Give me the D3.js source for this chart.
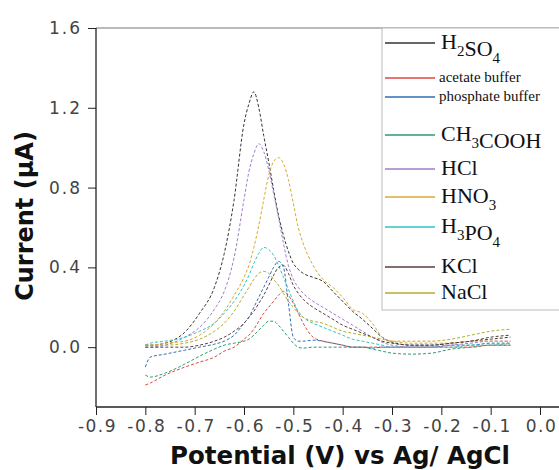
<!DOCTYPE html>
<html>
<head>
<meta charset="utf-8">
<script src="https://cdn.jsdelivr.net/npm/d3@7"></script>
<style>
  body { margin: 0; background: #fff; }
  svg { display: block; }
</style>
</head>
<body>
<div id="chart"></div>
<script>
// potential grid (V vs Ag/AgCl) shared by all scans
const potentials = [-0.80, -0.79, -0.76, -0.72, -0.69, -0.66, -0.64, -0.62, -0.60, -0.59,
  -0.58, -0.57, -0.56, -0.55, -0.54, -0.53, -0.52, -0.51, -0.50, -0.49,
  -0.48, -0.46, -0.44, -0.42, -0.40, -0.38, -0.36, -0.34, -0.32, -0.30,
  -0.26, -0.22, -0.18, -0.14, -0.10, -0.06]

// current (µA)
const h2so4 = [0.01, 0.01, 0.02, 0.075, 0.17, 0.30, 0.47, 0.74, 1.12, 1.22,
  1.28, 1.20, 1.06, 0.93, 0.79, 0.66, 0.56, 0.48, 0.42, 0.39,
  0.37, 0.35, 0.33, 0.28, 0.23, 0.18, 0.14, 0.095, 0.05, 0.025,
  0.01, 0.01, 0.02, 0.03, 0.04, 0.05]
const acetateBuffer = [-0.19, -0.18, -0.14, -0.10, -0.075, -0.05, -0.02, 0.0, 0.04, 0.06,
  0.09, 0.13, 0.17, 0.20, 0.23, 0.26, 0.28, 0.26, 0.22, 0.17,
  0.12, 0.05, 0.03, 0.02, 0.01, 0.0, 0.0, 0.0, 0.0, 0.0,
  0.0, 0.0, 0.0, 0.0, 0.01, 0.01]
const phosphateBuffer = [-0.10, -0.05, -0.035, -0.015, 0.0, 0.015, 0.03, 0.06, 0.12, 0.15,
  0.20, 0.25, 0.30, 0.35, 0.40, 0.43, 0.40, 0.22, 0.05, 0.03,
  0.03, 0.035, 0.03, 0.02, 0.01, 0.0, 0.0, -0.005, 0.0, 0.0,
  0.0, 0.0, 0.01, 0.01, 0.02, 0.02]
const ch3cooh = [-0.14, -0.15, -0.13, -0.085, -0.045, -0.01, 0.01, 0.02, 0.03, 0.04,
  0.06, 0.085, 0.11, 0.13, 0.13, 0.11, 0.08, 0.05, 0.02, 0.0,
  -0.005, 0.0, 0.0, 0.0, 0.0, 0.0, 0.0, -0.01, -0.02, -0.03,
  -0.035, -0.03, -0.01, 0.0, 0.01, 0.01]
const hcl = [0.0, 0.0, 0.01, 0.05, 0.10, 0.19, 0.28, 0.45, 0.74, 0.88,
  0.97, 1.02, 0.98, 0.89, 0.77, 0.65, 0.52, 0.41, 0.34, 0.30,
  0.27, 0.23, 0.20, 0.17, 0.14, 0.11, 0.08, 0.05, 0.025, 0.01,
  0.0, 0.0, 0.01, 0.02, 0.03, 0.03]
const hno3 = [0.01, 0.01, 0.02, 0.03, 0.06, 0.12, 0.18, 0.26, 0.35, 0.41,
  0.50, 0.61, 0.74, 0.86, 0.93, 0.95, 0.92, 0.84, 0.72, 0.60,
  0.52, 0.41, 0.34, 0.30, 0.25, 0.19, 0.17, 0.12, 0.05, 0.03,
  0.02, 0.02, 0.02, 0.03, 0.03, 0.03]
const h3po4 = [0.01, 0.02, 0.03, 0.05, 0.08, 0.12, 0.17, 0.23, 0.31, 0.36,
  0.42, 0.47, 0.50, 0.49, 0.46, 0.41, 0.35, 0.29, 0.23, 0.18,
  0.15, 0.12, 0.10, 0.08, 0.06, 0.04, 0.03, 0.02, 0.01, 0.0,
  0.0, 0.0, 0.0, 0.01, 0.01, 0.02]
const kcl = [0.0, 0.0, 0.0, 0.0, 0.01, 0.03, 0.05, 0.08, 0.12, 0.15,
  0.18, 0.22, 0.26, 0.31, 0.36, 0.40, 0.41, 0.37, 0.31, 0.27,
  0.24, 0.20, 0.17, 0.14, 0.11, 0.09, 0.07, 0.05, 0.03, 0.02,
  0.01, 0.01, 0.02, 0.03, 0.05, 0.06]
const nacl = [0.01, 0.01, 0.01, 0.02, 0.04, 0.08, 0.12, 0.18, 0.26, 0.30,
  0.34, 0.37, 0.38, 0.37, 0.34, 0.31, 0.27, 0.23, 0.20, 0.17,
  0.15, 0.13, 0.12, 0.10, 0.08, 0.07, 0.06, 0.05, 0.04, 0.03,
  0.03, 0.03, 0.04, 0.06, 0.08, 0.09]

const seriesNames = ['H2SO4', 'acetate buffer', 'phosphate buffer', 'CH3COOH', 'HCl', 'HNO3', 'H3PO4', 'KCl', 'NaCl']
const seriesValues = [h2so4, acetateBuffer, phosphateBuffer, ch3cooh, hcl, hno3, h3po4, kcl, nacl]
const seriesColors = ['#333333', '#e0463c', '#2e6fb5', '#2e9a6e', '#a07cc8', '#d9a830', '#2ec4c4', '#5a3c3c', '#b4ad2c']

const xTicks = [-0.9, -0.8, -0.7, -0.6, -0.5, -0.4, -0.3, -0.2, -0.1, 0.0]
const yTicks = [0.0, 0.4, 0.8, 1.2, 1.6]

const W = 559, H = 470
const plot = { left: 96, top: 28, right: 540, bottom: 407 }

const svg = d3.select('#chart').append('svg')
  .attr('width', W).attr('height', H)
  .style('font-family', '"DejaVu Sans", sans-serif')

const x = d3.scaleLinear().domain([-0.9, 0.0]).range([plot.left, plot.right])
const y = d3.scaleLinear().domain([-0.3, 1.6]).range([plot.bottom, plot.top])

// top frame line
svg.append('line')
  .attr('x1', plot.left).attr('x2', W)
  .attr('y1', plot.top).attr('y2', plot.top)
  .attr('stroke', '#777').attr('stroke-width', 1)

// curves
const line = d3.line()
  .x((d) => x(d[0]))
  .y((d) => y(d[1]))
  .curve(d3.curveMonotoneX)

svg.append('g').attr('class', 'curves')
  .selectAll('path')
  .data(seriesValues)
  .join('path')
  .attr('d', (vals) => line(potentials.map((p, i) => [p, vals[i]])))
  .attr('fill', 'none')
  .attr('stroke', (_, i) => seriesColors[i])
  .attr('stroke-width', 1)
  .attr('stroke-dasharray', '3,2')

// x axis
const xMinor = xTicks.slice(0, -1).map((t) => t + 0.05)
const gx = svg.append('g').attr('transform', `translate(0,${plot.bottom})`)
gx.append('line')
  .attr('x1', plot.left).attr('x2', W)
  .attr('stroke', '#222').attr('stroke-width', 1.3)
gx.call(d3.axisBottom(x).tickValues(xMinor).tickSize(5).tickFormat(''))
gx.call(d3.axisBottom(x).tickValues(xTicks).tickSize(8).tickPadding(5)
  .tickFormat((d) => d3.format('.1f')(d).replace('−', '-')))
gx.selectAll('.domain').remove()
gx.selectAll('.tick line').attr('stroke', '#222')
gx.selectAll('.tick text')
  .attr('fill', '#444')
  .attr('dx', '1px')
  .style('font-size', '17px')
  .style('letter-spacing', '1.5px')
  .style('font-family', '"DejaVu Sans", sans-serif')

// y axis
const yMinor = [-0.2, 0.2, 0.6, 1.0, 1.4]
const gy = svg.append('g').attr('transform', `translate(${plot.left},0)`)
gy.append('line')
  .attr('y1', plot.top).attr('y2', plot.bottom)
  .attr('stroke', '#222').attr('stroke-width', 1.3)
gy.call(d3.axisLeft(y).tickValues(yMinor).tickSize(5).tickFormat(''))
gy.call(d3.axisLeft(y).tickValues(yTicks).tickSize(8).tickPadding(6).tickFormat(d3.format('.1f')))
gy.selectAll('.domain').remove()
gy.selectAll('.tick line').attr('stroke', '#222')
gy.selectAll('.tick text')
  .attr('fill', '#444')
  .style('font-size', '17px')
  .style('letter-spacing', '2px')
  .style('font-family', '"DejaVu Sans", sans-serif')

// axis titles
svg.append('text')
  .attr('x', 340).attr('y', 464)
  .attr('text-anchor', 'middle')
  .style('font-size', '24.5px').style('font-weight', 'bold')
  .attr('fill', '#111')
  .text('Potential (V) vs Ag/ AgCl')

svg.append('text')
  .attr('transform', 'translate(33,216) rotate(-90)')
  .attr('text-anchor', 'middle')
  .style('font-size', '24px').style('font-weight', 'bold')
  .attr('fill', '#111')
  .text('Current (μA)')

// legend
const legendRows = [43, 78, 97, 135, 169, 197, 227, 267, 293]
const legend = svg.append('g').attr('class', 'legend')
legend.append('rect')
  .attr('x', 382).attr('y', plot.top)
  .attr('width', W - 382 + 5).attr('height', 310 - plot.top)
  .attr('fill', '#fff').attr('stroke', '#bbb').attr('stroke-width', 1)

seriesNames.forEach((name, i) => {
  const small = name.includes('buffer')
  const ly = legendRows[i]
  legend.append('line')
    .attr('x1', 385).attr('x2', 435)
    .attr('y1', ly).attr('y2', ly)
    .attr('stroke', seriesColors[i]).attr('stroke-width', 1.5)
  const t = legend.append('text')
    .attr('x', small ? 439 : 441)
    .attr('y', ly + (small ? 4 : 6))
    .style('font-family', '"Liberation Serif", "Times New Roman", serif')
    .style('font-size', small ? '15px' : '22px')
    .attr('fill', '#111')
  // digits in formulas are subscripts
  name.split(/(\d)/).filter((s) => s !== '').forEach((part) => {
    if (/\d/.test(part)) {
      t.append('tspan').attr('dy', 7).style('font-size', '15px').text(part)
      t.append('tspan').attr('dy', -7).text('')
    } else {
      t.append('tspan').text(part)
    }
  })
})
</script>
</body>
</html>
